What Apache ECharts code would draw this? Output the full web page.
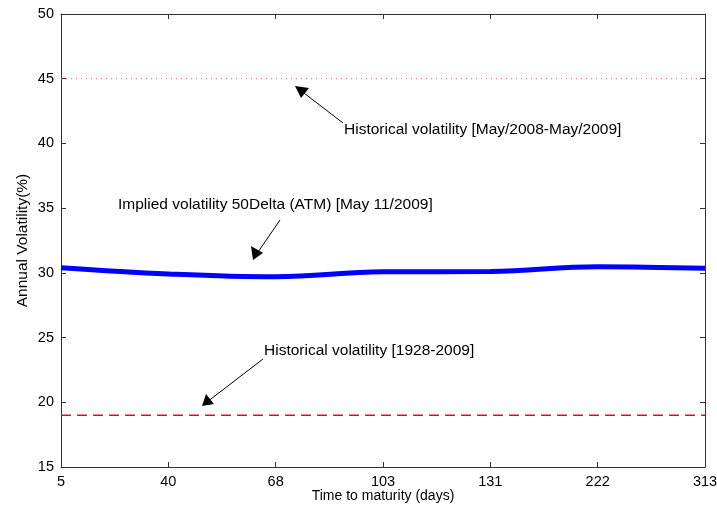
<!DOCTYPE html>
<html>
<head>
<meta charset="utf-8">
<script src="https://cdn.jsdelivr.net/npm/echarts@6/dist/echarts.min.js"></script>
<style>html,body{margin:0;padding:0;background:#fff;}#c{width:717px;height:512px;}</style>
</head>
<body>
<div id="c"></div>
<script>
var maturities = ['5', '40', '68', '103', '131', '222', '313'];
var impliedVol = [30.40, 29.92, 29.70, 30.08, 30.10, 30.48, 30.35];
var histVolRecent = [45, 45, 45, 45, 45, 45, 45];
var histVolLong = [19, 19, 19, 19, 19, 19, 19];
var yMin = 15, yMax = 50, yStep = 5;

var FONT = 'Liberation Sans, Arial, sans-serif';
var AX = '#333';
var chart = echarts.init(document.getElementById('c'));
var axisCommon = {
  axisLine: {show: true, lineStyle: {color: AX, width: 1}},
  splitLine: {show: false}
};
chart.setOption({
  animation: false,
  backgroundColor: '#fff',
  grid: {left: 61, right: 12, top: 14, bottom: 45, containLabel: false, outerBoundsMode: 'none'},
  xAxis: [
    Object.assign({
      type: 'category', data: maturities, boundaryGap: false,
      name: 'Time to maturity (days)', nameLocation: 'middle', nameGap: 22, nameMoveOverlap: false,
      nameTextStyle: {color: '#000', fontFamily: FONT, fontSize: 14},
      axisTick: {show: true, inside: true, length: 5, lineStyle: {color: AX}},
      axisLabel: {color: '#000', fontFamily: FONT, fontSize: 14.5, margin: 7}
    }, axisCommon),
    Object.assign({
      type: 'category', data: maturities, boundaryGap: false, position: 'top',
      axisTick: {show: true, inside: true, length: 5, lineStyle: {color: AX}},
      axisLabel: {show: false}
    }, axisCommon)
  ],
  yAxis: [
    Object.assign({
      type: 'value', min: yMin, max: yMax, interval: yStep,
      name: 'Annual Volatility(%)', nameLocation: 'middle', nameGap: 30, nameMoveOverlap: false, nameRotate: 90,
      nameTextStyle: {color: '#000', fontFamily: FONT, fontSize: 15.5},
      axisTick: {show: true, inside: true, length: 5, lineStyle: {color: AX}},
      axisLabel: {color: '#000', fontFamily: FONT, fontSize: 14.5, margin: 7}
    }, axisCommon),
    Object.assign({
      type: 'value', min: yMin, max: yMax, interval: yStep, position: 'right',
      axisTick: {show: true, inside: true, length: 5, lineStyle: {color: AX}},
      axisLabel: {show: false}
    }, axisCommon)
  ],
  series: [
    {type: 'line', name: 'Historical volatility [May/2008-May/2009]', data: histVolRecent,
     symbol: 'none', lineStyle: {color: '#ff5050', width: 1, type: [1, 4]}},
    {type: 'line', name: 'Historical volatility [1928-2009]', data: histVolLong,
     symbol: 'none', lineStyle: {color: '#ff0000', width: 1.5, type: [10, 6]}},
    {type: 'line', name: 'Implied volatility 50Delta (ATM) [May 11/2009]', data: impliedVol,
     symbol: 'none', smooth: 0.4, lineStyle: {color: '#0000ff', width: 5}}
  ],
  graphic: [
    {type: 'text', left: 344, top: 122, style: {text: 'Historical volatility [May/2008-May/2009]', fill: '#000', font: '15.5px ' + FONT}},
    {type: 'text', left: 118, top: 197, style: {text: 'Implied volatility 50Delta (ATM) [May 11/2009]', fill: '#000', font: '15.5px ' + FONT}},
    {type: 'text', left: 264, top: 343, style: {text: 'Historical volatility [1928-2009]', fill: '#000', font: '15.5px ' + FONT}},
    {type: 'line', shape: {x1: 343, y1: 123, x2: 300, y2: 90}, style: {stroke: '#000', lineWidth: 1}},
    {type: 'polygon', shape: {points: [[295, 86], [309, 88], [301, 98]]}, style: {fill: '#000'}},
    {type: 'line', shape: {x1: 280, y1: 220, x2: 256, y2: 255}, style: {stroke: '#000', lineWidth: 1}},
    {type: 'polygon', shape: {points: [[253, 260], [251, 246], [263, 253]]}, style: {fill: '#000'}},
    {type: 'line', shape: {x1: 263, y1: 359, x2: 207, y2: 402}, style: {stroke: '#000', lineWidth: 1}},
    {type: 'polygon', shape: {points: [[202, 406], [206, 394], [214, 404]]}, style: {fill: '#000'}}
  ]
});
</script>
</body>
</html>
